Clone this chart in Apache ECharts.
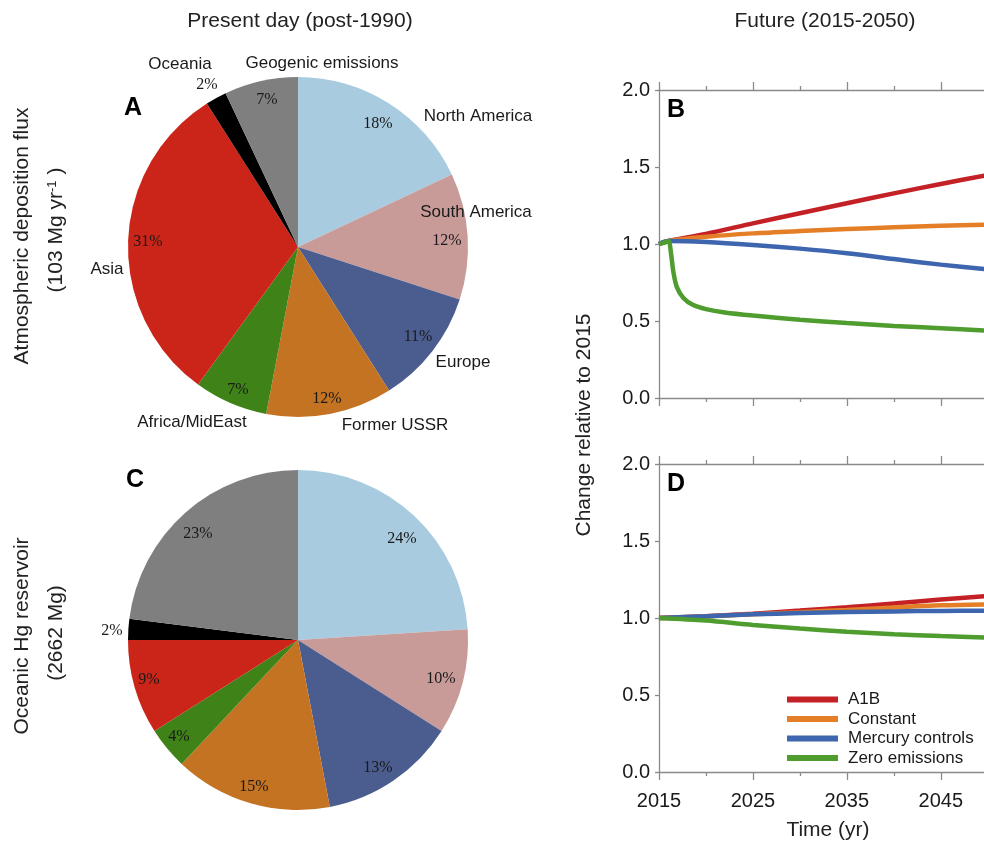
<!DOCTYPE html>
<html>
<head>
<meta charset="utf-8">
<script src="https://cdn.jsdelivr.net/npm/echarts@6/dist/echarts.min.js"></script>
<style>html,body{margin:0;padding:0;background:#fff;}#c{width:984px;height:842px;}</style>
</head>
<body>
<div id="c"></div>
<script>
// ---------- data ----------
const regions = ['North America','South America','Europe','Former USSR','Africa/MidEast','Asia','Oceania','Geogenic emissions'];
const depositionPct = [18, 12, 11, 12, 7, 31, 2, 7];
const oceanPct = [24, 10, 13, 15, 4, 9, 2, 23];
const regionColors = ['#a9cbdf','#c89b99','#4b5d8f','#c47322','#3e8218','#cb2419','#000000','#7f7f7f'];

const scenarios = ['A1B','Constant','Mercury controls','Zero emissions'];
const scenarioColors = ['#c42127','#e57f27','#3d66ae','#4f9c2f'];

// Panel B (atmospheric deposition)
const yearsB = [2015, 2016, 2020, 2025, 2030, 2035, 2040, 2045, 2050];
const a1bB = [1.0, 1.02, 1.066, 1.134, 1.2, 1.265, 1.329, 1.39, 1.448];
const constB = [1.0, 1.02, 1.047, 1.069, 1.084, 1.097, 1.108, 1.118, 1.125];
const ctrlB = [1.0, 1.02, 1.013, 0.994, 0.97, 0.94, 0.902, 0.866, 0.836];
const yearsZeroB = [2015, 2015.5, 2016, 2016.3, 2016.5, 2016.9, 2017.6, 2018.6, 2020, 2022, 2025, 2030, 2035, 2040, 2045, 2050];
const zeroB = [1.0, 1.008, 1.02, 0.93, 0.83, 0.72, 0.65, 0.605, 0.577, 0.555, 0.535, 0.508, 0.487, 0.468, 0.453, 0.437];

// Panel D (oceanic reservoir)
const yearsD = [2015, 2020, 2025, 2030, 2035, 2040, 2045, 2050];
const a1bD = [1.0, 1.012, 1.028, 1.048, 1.07, 1.094, 1.12, 1.143];
const constD = [1.0, 1.01, 1.025, 1.038, 1.052, 1.068, 1.082, 1.088];
const ctrlD = [1.0, 1.012, 1.024, 1.032, 1.039, 1.043, 1.046, 1.047];
const zeroD = [1.0, 0.983, 0.955, 0.932, 0.911, 0.895, 0.883, 0.873];

const majorYears = [2015, 2025, 2035, 2045];
const minorYears = [2020, 2030, 2040];
const yTicks = [0, 0.5, 1.0, 1.5, 2.0];

// ---------- helpers ----------
const zip = (xs, ys) => xs.map((x, i) => [x, ys[i]]);
const SANS = 'Liberation Sans, Arial, sans-serif';
const SERIF = 'Liberation Serif, Times New Roman, serif';
const axisGray = '#8a8a8a';
const X_MIN = 2015, X_MAX = 2049.6;

const pieData = (vals) => regions.map((n, i) => ({ name: n, value: vals[i], itemStyle: { color: regionColors[i] } }));
const ringData = (vals) => regions.map((n, i) => ({ name: n, value: vals[i] }));

// text placement for labels (layout only)
const nameLabelPosA = [[478,116],[476,212],[463,362],[395,425],[192,422],[107,269],[180,64],[322,63]];
const pctLabelPosA = [[378,124],[447,241],[418,337],[327,399],[238,390],[148,242],[207,85],[267,100]];
const pctLabelPosC = [[402,539],[441,679],[378,768],[254,787],[179,737],[149,680],[112,631],[198,534]];
const placeAt = (table) => (p) => {
  const pos = table[p.dataIndex];
  return pos ? { x: pos[0], y: pos[1], align: 'center', verticalAlign: 'middle' } : {};
};

function majorXAxis(gridIndex, position, showLabels) {
  return {
    type: 'value', gridIndex, position, min: X_MIN, max: X_MAX,
    axisLine: { show: true, onZero: false, lineStyle: { color: axisGray, width: 1.3 } },
    axisTick: { show: true, inside: false, length: 8, customValues: majorYears, lineStyle: { color: axisGray, width: 1.3 } },
    splitLine: { show: false },
    axisLabel: { show: showLabels, customValues: majorYears, margin: 19, fontSize: 20, color: '#1a1a1a', fontFamily: SANS, formatter: v => String(Math.round(v)) }
  };
}
function minorXAxis(gridIndex, position) {
  return {
    type: 'value', gridIndex, position, min: X_MIN, max: X_MAX,
    axisLine: { show: false, onZero: false },
    axisTick: { show: true, inside: false, length: 4, customValues: minorYears, lineStyle: { color: axisGray, width: 1.3 } },
    splitLine: { show: false },
    axisLabel: { show: false }
  };
}
function yAxisCfg(gridIndex) {
  return {
    type: 'value', gridIndex, min: yTicks[0], max: yTicks[yTicks.length - 1], interval: 0.5,
    axisLine: { show: true, lineStyle: { color: axisGray, width: 1.3 } },
    axisTick: { show: true, inside: false, length: 4, lineStyle: { color: axisGray, width: 1.3 } },
    splitLine: { show: false },
    axisLabel: { margin: 9, fontSize: 20, color: '#1a1a1a', fontFamily: SANS, formatter: v => v.toFixed(1) }
  };
}
function hiddenY(gridIndex) {
  return { type: 'value', gridIndex, min: 0, max: 2, show: false, splitLine: { show: false } };
}
function lineSeries(name, color, data, xi, yi) {
  return {
    type: 'line', name, data, xAxisIndex: xi, yAxisIndex: yi,
    showSymbol: false, symbol: 'none', smooth: 0.3,
    lineStyle: { color, width: 4.5 }, itemStyle: { color }, silent: true, animation: false
  };
}

const chart = echarts.init(document.getElementById('c'), null, { renderer: 'canvas' });

const gridB = { left: 659, top: 90, width: 325, height: 308 };
const gridD = { left: 659, top: 464, width: 325, height: 308 };

const option = {
  backgroundColor: '#ffffff',
  animation: false,
  grid: [gridB, gridD, Object.assign({}, gridB), Object.assign({}, gridD)],
  xAxis: [
    majorXAxis(0, 'bottom', false),
    majorXAxis(0, 'top', false),
    majorXAxis(1, 'bottom', true),
    majorXAxis(1, 'top', false),
    minorXAxis(2, 'bottom'),
    minorXAxis(2, 'top'),
    minorXAxis(3, 'bottom'),
    minorXAxis(3, 'top')
  ],
  yAxis: [yAxisCfg(0), yAxisCfg(1), hiddenY(2), hiddenY(3)],
  legend: {
    data: scenarios, orient: 'vertical', left: 787, top: 691, padding: 0,
    icon: 'rect', itemWidth: 51, itemHeight: 6, itemGap: 2.5,
    textStyle: { fontSize: 17, color: '#1a1a1a', fontFamily: SANS, padding: [0, 0, 0, 5] },
    selectedMode: false
  },
  series: [
    // Pie A
    {
      type: 'pie', center: [298, 247], radius: [0, 170], startAngle: 90, clockwise: true,
      avoidLabelOverlap: false, silent: true, animation: false,
      itemStyle: { borderWidth: 0 }, emphasis: { disabled: true },
      data: pieData(depositionPct),
      label: { show: true, position: 'outside', formatter: '{b}', fontSize: 17, color: '#1a1a1a', fontFamily: SANS },
      labelLine: { show: false },
      labelLayout: placeAt(nameLabelPosA)
    },
    {
      type: 'pie', center: [298, 247], radius: [130, 170], startAngle: 90, clockwise: true,
      avoidLabelOverlap: false, silent: true, animation: false,
      itemStyle: { color: 'rgba(0,0,0,0)', borderWidth: 0 }, emphasis: { disabled: true },
      data: ringData(depositionPct),
      label: { show: true, position: 'inside', formatter: '{c}%', fontSize: 16, color: '#1a1a1a', fontFamily: SERIF },
      labelLine: { show: false },
      labelLayout: placeAt(pctLabelPosA)
    },
    // Pie C
    {
      type: 'pie', center: [298, 640], radius: [0, 170], startAngle: 90, clockwise: true,
      avoidLabelOverlap: false, silent: true, animation: false,
      itemStyle: { borderWidth: 0 }, emphasis: { disabled: true },
      data: pieData(oceanPct),
      label: { show: false }, labelLine: { show: false }
    },
    {
      type: 'pie', center: [298, 640], radius: [130, 170], startAngle: 90, clockwise: true,
      avoidLabelOverlap: false, silent: true, animation: false,
      itemStyle: { color: 'rgba(0,0,0,0)', borderWidth: 0 }, emphasis: { disabled: true },
      data: ringData(oceanPct),
      label: { show: true, position: 'inside', formatter: '{c}%', fontSize: 16, color: '#1a1a1a', fontFamily: SERIF },
      labelLine: { show: false },
      labelLayout: placeAt(pctLabelPosC)
    },
    // Panel B
    lineSeries(scenarios[0], scenarioColors[0], zip(yearsB, a1bB), 0, 0),
    lineSeries(scenarios[1], scenarioColors[1], zip(yearsB, constB), 0, 0),
    lineSeries(scenarios[2], scenarioColors[2], zip(yearsB, ctrlB), 0, 0),
    lineSeries(scenarios[3], scenarioColors[3], zip(yearsZeroB, zeroB), 0, 0),
    // Panel D
    lineSeries(scenarios[0], scenarioColors[0], zip(yearsD, a1bD), 2, 1),
    lineSeries(scenarios[1], scenarioColors[1], zip(yearsD, constD), 2, 1),
    lineSeries(scenarios[2], scenarioColors[2], zip(yearsD, ctrlD), 2, 1),
    lineSeries(scenarios[3], scenarioColors[3], zip(yearsD, zeroD), 2, 1)
  ],
  graphic: [
    { type: 'text', x: 300, y: 21, style: { text: 'Present day (post-1990)', font: '21px ' + SANS, fill: '#222', align: 'center', verticalAlign: 'middle' } },
    { type: 'text', x: 825, y: 21, style: { text: 'Future (2015-2050)', font: '21px ' + SANS, fill: '#222', align: 'center', verticalAlign: 'middle' } },
    { type: 'text', x: 133, y: 108, style: { text: 'A', font: 'bold 25px ' + SANS, fill: '#000', align: 'center', verticalAlign: 'middle' } },
    { type: 'text', x: 135, y: 480, style: { text: 'C', font: 'bold 25px ' + SANS, fill: '#000', align: 'center', verticalAlign: 'middle' } },
    { type: 'text', x: 676, y: 110, style: { text: 'B', font: 'bold 25px ' + SANS, fill: '#000', align: 'center', verticalAlign: 'middle' } },
    { type: 'text', x: 676, y: 484, style: { text: 'D', font: 'bold 25px ' + SANS, fill: '#000', align: 'center', verticalAlign: 'middle' } },
    { type: 'text', x: 22, y: 236, rotation: Math.PI / 2, style: { text: 'Atmospheric deposition flux', font: '21px ' + SANS, fill: '#222', align: 'center', verticalAlign: 'middle' } },
    { type: 'text', x: 56, y: 230, rotation: Math.PI / 2, style: {
        text: '(103 Mg yr{sup|-1} )', fontSize: 21, fontFamily: SANS, fill: '#222', align: 'center', verticalAlign: 'middle',
        rich: { sup: { fontSize: 13, fontFamily: SANS, fill: '#222', verticalAlign: 'top', lineHeight: 21 } } } },
    { type: 'text', x: 22, y: 636, rotation: Math.PI / 2, style: { text: 'Oceanic Hg reservoir', font: '21px ' + SANS, fill: '#222', align: 'center', verticalAlign: 'middle' } },
    { type: 'text', x: 56, y: 633, rotation: Math.PI / 2, style: { text: '(2662 Mg)', font: '21px ' + SANS, fill: '#222', align: 'center', verticalAlign: 'middle' } },
    { type: 'text', x: 584, y: 425, rotation: Math.PI / 2, style: { text: 'Change relative to 2015', font: '21px ' + SANS, fill: '#222', align: 'center', verticalAlign: 'middle' } },
    { type: 'text', x: 828, y: 830, style: { text: 'Time (yr)', font: '21px ' + SANS, fill: '#222', align: 'center', verticalAlign: 'middle' } }
  ]
};
chart.setOption(option);
</script>
</body>
</html>
